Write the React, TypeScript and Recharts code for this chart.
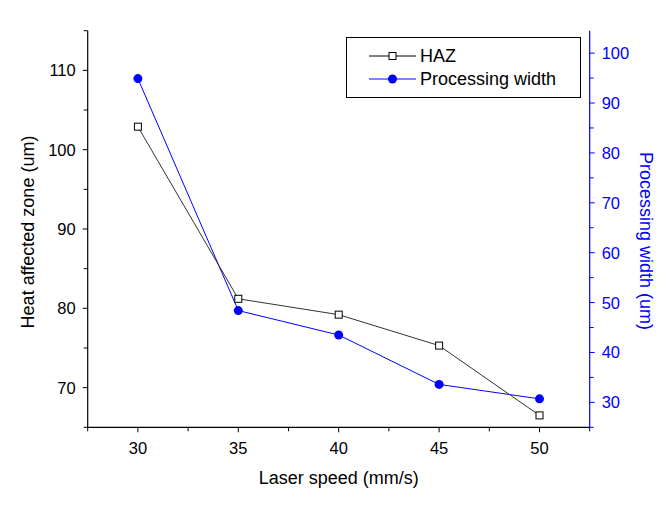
import { LineChart, Line, XAxis, YAxis, Legend, Label } from "recharts";

const speeds = [30, 35, 40, 45, 50];
const hazValues = [102.9, 81.2, 79.2, 75.3, 66.5];
const widthValues = [94.9, 48.4, 43.5, 33.6, 30.7];

const xTicks = [27.5, 30, 32.5, 35, 37.5, 40, 42.5, 45, 47.5, 50, 52.5];
const leftTicks = [65, 70, 75, 80, 85, 90, 95, 100, 105, 110, 115];
const rightTicks = [25, 30, 35, 40, 45, 50, 55, 60, 65, 70, 75, 80, 85, 90, 95, 100];

const data = speeds.map((s, i) => ({ speed: s, haz: hazValues[i], width: widthValues[i] }));

const FONT = '"Liberation Sans", Arial, sans-serif';
const BLUE = "#0000ff";

function BottomTick(props: any) {
  const { x, y, payload } = props;
  const major = payload.value % 5 === 0;
  return (
    <g>
      <line x1={x} x2={x} y1={y} y2={y + (major ? 5 : 4)} stroke="#000" />
      {major && (
        <text x={x} y={y + 27} textAnchor="middle" fontSize={16.5} fill="#000" fontFamily={FONT}>
          {payload.value}
        </text>
      )}
    </g>
  );
}

function LeftTick(props: any) {
  const { x, y, payload } = props;
  const major = payload.value % 10 === 0;
  return (
    <g>
      <line x1={x - (major ? 5 : 4)} x2={x} y1={y} y2={y} stroke="#000" />
      {major && (
        <text x={x - 12} y={y + 6} textAnchor="end" fontSize={16.5} fill="#000" fontFamily={FONT}>
          {payload.value}
        </text>
      )}
    </g>
  );
}

function RightTick(props: any) {
  const { x, y, payload } = props;
  const major = payload.value % 10 === 0;
  return (
    <g>
      <line x1={x} x2={x + (major ? 5 : 4)} y1={y} y2={y} stroke={BLUE} />
      {major && (
        <text x={x + 12} y={y + 6} textAnchor="start" fontSize={16.5} fill={BLUE} fontFamily={FONT}>
          {payload.value}
        </text>
      )}
    </g>
  );
}

function SquareDot(props: any) {
  const { cx, cy } = props;
  if (cx == null || cy == null) return null;
  return <rect x={cx - 3.5} y={cy - 3.5} width={7} height={7} fill="#fff" stroke="#000" strokeWidth={1} />;
}

function LegendBox() {
  const rows = [
    { name: "HAZ", color: "#000", square: true },
    { name: "Processing width", color: BLUE, square: false },
  ];
  return (
    <div
      style={{
        border: "1px solid #000",
        boxSizing: "border-box",
        width: 235,
        height: 61,
        background: "#fff",
        paddingTop: 7,
        paddingLeft: 22,
      }}
    >
      {rows.map((r) => (
        <div key={r.name} style={{ display: "flex", alignItems: "center", height: 23 }}>
          <svg width={50} height={14}>
            <line x1={0} x2={47} y1={7} y2={7} stroke={r.color} />
            {r.square ? (
              <rect x={20} y={3.5} width={7} height={7} fill="#fff" stroke="#000" />
            ) : (
              <circle cx={23.5} cy={7} r={4.5} fill={BLUE} />
            )}
          </svg>
          <span style={{ fontFamily: FONT, fontSize: 18, color: "#000", marginLeft: 1 }}>{r.name}</span>
        </div>
      ))}
    </div>
  );
}

export default function App() {
  return (
    <div style={{ fontFamily: FONT }}>
      <LineChart
        width={655}
        height={492}
        data={data}
        margin={{ top: 22.7, right: 13.3, bottom: 12.7, left: 19.7 }}
      >
        <XAxis
          dataKey="speed"
          type="number"
          domain={[27.5, 52.5]}
          ticks={xTicks}
          interval={0}
          height={60}
          tickSize={0}
          tickMargin={0}
          tickLine={false}
          axisLine={{ stroke: "#000", strokeWidth: 1.2 }}
          tick={<BottomTick />}
        >
          <Label
            content={(p: any) => {
              const vb = p.viewBox;
              return (
                <text x={vb.x + vb.width / 2} y={vb.y + 57} textAnchor="middle" fontSize={18} fill="#000" fontFamily={FONT}>
                  Laser speed (mm/s)
                </text>
              );
            }}
          />
        </XAxis>
        <XAxis
          xAxisId="top"
          orientation="top"
          type="number"
          domain={[27.5, 52.5]}
          height={0}
          tick={false}
          tickLine={false}
          axisLine={{ stroke: "#000", strokeWidth: 1.2 }}
        />
        <YAxis
          yAxisId="left"
          type="number"
          domain={[65, 115]}
          ticks={leftTicks}
          interval={0}
          width={60}
          tickSize={0}
          tickMargin={0}
          tickLine={false}
          axisLine={{ stroke: "#000", strokeWidth: 1.2 }}
          tick={<LeftTick />}
        >
          <Label
            content={(p: any) => {
              const vb = p.viewBox;
              const cx = vb.x + 0.5;
              const cy = vb.y + vb.height / 2 + 3;
              return (
                <text
                  x={cx}
                  y={cy}
                  transform={`rotate(-90 ${cx} ${cy})`}
                  textAnchor="middle"
                  dominantBaseline="central"
                  fontSize={18}
                  fill="#000"
                  fontFamily={FONT}
                >
                  Heat affected zone (um)
                </text>
              );
            }}
          />
        </YAxis>
        <YAxis
          yAxisId="right"
          orientation="right"
          type="number"
          domain={[25, 104.5]}
          ticks={rightTicks}
          interval={0}
          width={60}
          tickSize={0}
          tickMargin={0}
          tickLine={false}
          axisLine={{ stroke: BLUE, strokeWidth: 1.2 }}
          tick={<RightTick />}
        >
          <Label
            content={(p: any) => {
              const vb = p.viewBox;
              const cx = vb.x + 56;
              const cy = vb.y + vb.height / 2 + 12;
              return (
                <text
                  x={cx}
                  y={cy}
                  transform={`rotate(90 ${cx} ${cy})`}
                  textAnchor="middle"
                  dominantBaseline="central"
                  fontSize={18}
                  fill={BLUE}
                  fontFamily={FONT}
                >
                  Processing width (um)
                </text>
              );
            }}
          />
        </YAxis>
        <Legend
          layout="vertical"
          align="center"
          verticalAlign="middle"
          content={() => <LegendBox />}
          wrapperStyle={{ left: 338, top: 28.7, width: 235, height: 61 }}
        />
        <Line
          yAxisId="right"
          dataKey="width"
          name="Processing width"
          stroke={BLUE}
          strokeWidth={1}
          dot={{ r: 4.5, fill: BLUE, stroke: BLUE, strokeWidth: 0 }}
          activeDot={false}
          isAnimationActive={false}
        />
        <Line
          yAxisId="left"
          dataKey="haz"
          name="HAZ"
          stroke="#333"
          strokeWidth={1}
          dot={<SquareDot />}
          activeDot={false}
          isAnimationActive={false}
        />
      </LineChart>
    </div>
  );
}
